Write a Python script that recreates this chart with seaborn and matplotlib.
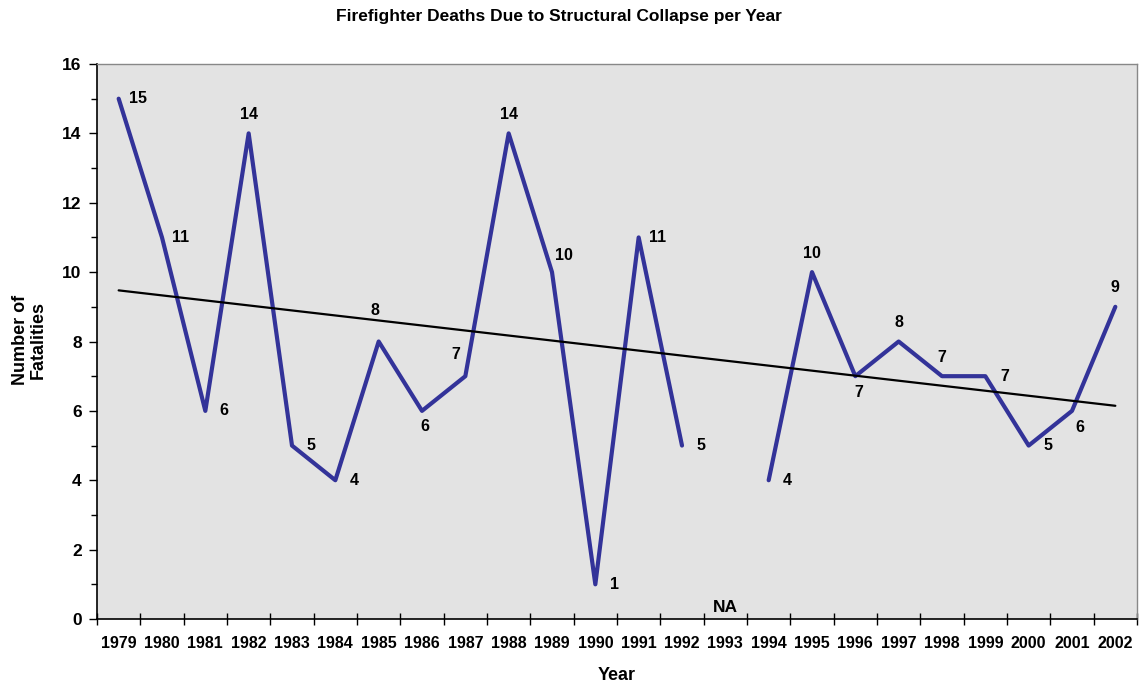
import numpy as np
import pandas as pd
import matplotlib
matplotlib.use("Agg")
import matplotlib.pyplot as plt
import seaborn as sns

years = list(range(1979, 2003))
deaths = [15, 11, 6, 14, 5, 4, 8, 6, 7, 14, 10, 1, 11, 5, np.nan,
          4, 10, 7, 8, 7, 7, 5, 6, 9]
# label placement around each point
label_pos = ["r", "r", "r", "a", "r", "r", "aa", "b", "al", "a", "ar", "r", "r", "r", None,
             "r", "a", "b", "a", "a", "r", "r", "br", "a"]
na_label = "NA"

sns.set_theme(style="white")
plt.rcParams['font.family'] = ['Liberation Sans', 'DejaVu Sans']
plt.rcParams['font.weight'] = 'bold'
plt.rcParams['text.color'] = 'black'
plt.rcParams['axes.labelcolor'] = 'black'
plt.rcParams['xtick.color'] = 'black'
plt.rcParams['ytick.color'] = 'black'

df = pd.DataFrame({"Year": years, "Deaths": deaths})
df["seg"] = np.cumsum(df["Deaths"].isna().astype(int))
dfp = df.dropna()

fig = plt.figure(figsize=(11.43, 6.91), dpi=100)
ax = fig.add_axes([97/1143, 1 - 619/691, (1137 - 97)/1143, (619 - 64)/691])
ax.set_facecolor("#e3e3e3")

sns.lineplot(data=dfp, x="Year", y="Deaths", units="seg", estimator=None,
             color="#333399", linewidth=3.0, ax=ax, solid_capstyle="round")

# linear trend line
xv = dfp["Year"].to_numpy(float)
yv = dfp["Deaths"].to_numpy(float)
k, b = np.polyfit(xv, yv, 1)
xt = np.array([years[0], years[-1]], float)
ax.plot(xt, k * xt + b, color="black", linewidth=1.6)

offsets = {"r": (19, 0), "a": (0, 19), "aa": (-4, 31), "b": (3, -16), "al": (-10, 22),
           "ar": (12, 17), "br": (8, -17)}
for yr, v, p in zip(years, deaths, label_pos):
    if p is None or np.isnan(v):
        continue
    dx, dy = offsets[p]
    ax.annotate(f"{int(v)}", (yr, v), xytext=(dx, dy), textcoords="offset pixels",
                ha="center", va="center", fontsize=11.5, fontweight="bold", color="black")
na_idx = [i for i, d in enumerate(deaths) if np.isnan(d)][0]
ax.annotate(na_label, (years[na_idx], 0), xytext=(0, 12), textcoords="offset pixels",
            ha="center", va="center", fontsize=12.5, fontweight="bold", color="black")

ax.set_xlim(years[0] - 0.5, years[-1] + 0.5)
ax.set_ylim(0, 16)
ax.set_yticks(range(0, 17, 2))
ax.set_yticks(range(1, 16, 2), minor=True)
ax.set_xticks(years)
ax.set_xticklabels([str(y) for y in years], fontsize=11.5, fontweight="bold")
ax.set_xticks(np.arange(years[0] - 0.5, years[-1] + 1.0, 1.0), minor=True)
ax.tick_params(axis="x", which="major", length=0, pad=12)
ax.tick_params(axis="x", which="minor", direction="inout", length=9, width=1, color="black", bottom=True)
ax.tick_params(axis="y", which="major", direction="out", length=6, width=1, color="black", left=True, labelsize=12.5, pad=5)
ax.tick_params(axis="y", which="minor", direction="out", length=4, width=1, color="black", left=True)
for lab in ax.get_yticklabels():
    lab.set_fontweight("bold")

for s in ["left", "bottom"]:
    ax.spines[s].set_color("black")
    ax.spines[s].set_linewidth(1.2)
for s in ["top", "right"]:
    ax.spines[s].set_color("#888888")
    ax.spines[s].set_linewidth(1.0)
    ax.spines[s].set_visible(True)

ax.set_xlabel("Year", fontsize=13, fontweight="bold", labelpad=12)
ax.set_ylabel("")
fig.text(29/1143, 1 - 340/691, "Number of\nFatalities", rotation=90, ha="center", va="center",
         fontsize=13, fontweight="bold", linespacing=1.05)
fig.text(559/1143, 1 - 17/691, "Firefighter Deaths Due to Structural Collapse per Year",
         ha="center", va="center", fontsize=12.5, fontweight="bold")

fig.savefig("out.png", dpi=100)
